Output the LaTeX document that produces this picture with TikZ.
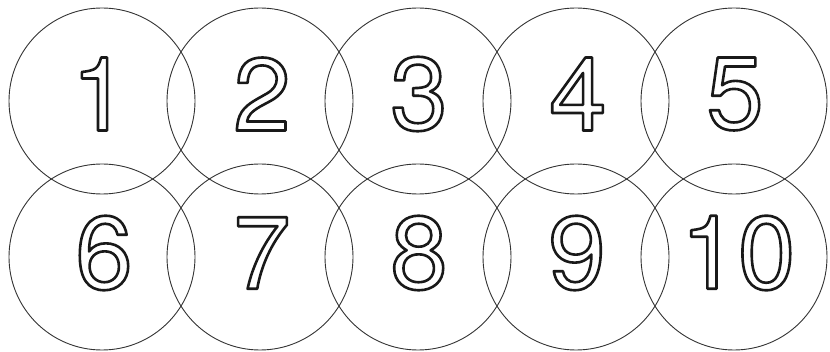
\documentclass[tikz,border=0pt]{standalone}
\usepackage{fontspec}
\setmainfont{TeX Gyre Heros}
\newcommand{\hollow}[1]{\special{pdf:literal q 1 Tr 2.6 w 1 j}#1\special{pdf:literal Q}}
\begin{document}
\begin{tikzpicture}[x=1pt,y=-1pt,
  ring/.style={draw=black!80,line width=0.9pt,circle,minimum size=186pt,inner sep=0pt},
  digit/.style={inner sep=0pt,font=\fontsize{103}{103}\selectfont,text=black!90}]
\useasboundingbox (0,0) rectangle (830,352);
\foreach \i/\x in {1/102,2/260,3/418,4/576,5/734}{
  \node[ring] (c\i) at (\x,101) {};
}
\foreach \i/\x in {6/102,7/260,8/418,9/576,10/734}{
  \node[ring] (c\i) at (\x,257) {};
}
\foreach \i/\x in {1/100,2/262,3/419,4/578,5/735}{
  \node[digit] (d\i) at (\x,94) {\hollow{\i}};
}
\foreach \i/\x in {6/104,7/262,8/419,9/577,10/738}{
  \node[digit] (d\i) at (\x,253) {\hollow{\i}};
}
\end{tikzpicture}
\end{document}
